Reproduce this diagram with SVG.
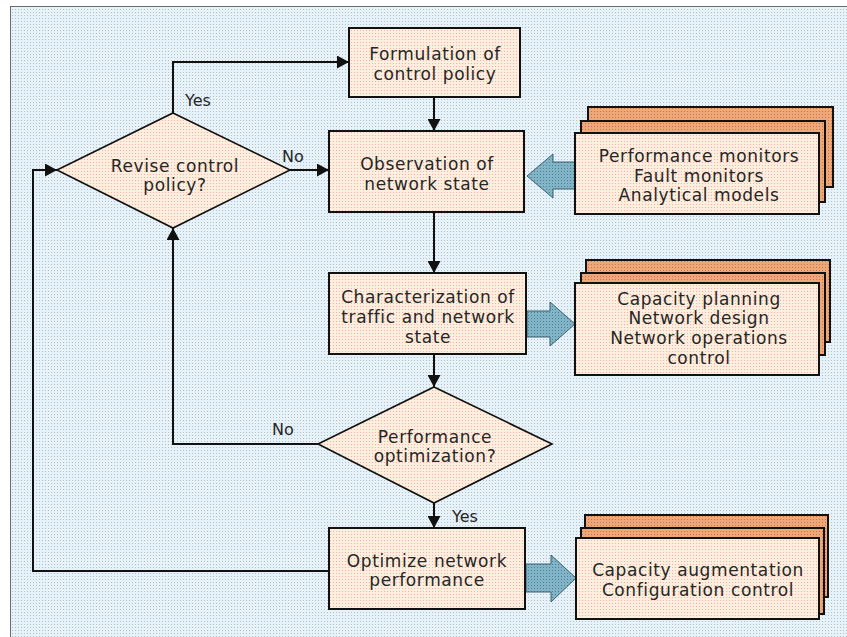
<svg xmlns="http://www.w3.org/2000/svg" width="847" height="637" viewBox="0 0 847 637">
  <defs>
    <!-- dotted fills -->
    <pattern id="bgDots" width="3" height="3" patternUnits="userSpaceOnUse">
      <rect width="3" height="3" fill="#e6f2fa"/>
      <rect width="1" height="1" fill="#bcbfc2"/>
    </pattern>
    <pattern id="peachDots" width="3" height="3" patternUnits="userSpaceOnUse">
      <rect width="3" height="3" fill="#fdeedd"/>
      <rect width="1" height="1" fill="#f0b2aa"/>
    </pattern>
    <pattern id="orangeDots" width="3" height="3" patternUnits="userSpaceOnUse">
      <rect width="3" height="3" fill="#eea878"/>
      <rect width="1" height="1" fill="#c67652"/>
    </pattern>
    <pattern id="blueDots" width="3" height="3" patternUnits="userSpaceOnUse">
      <rect width="3" height="3" fill="#80b4c6"/>
      <rect width="1" height="1" fill="#4f7f90"/>
    </pattern>
    <marker id="arrow" markerUnits="userSpaceOnUse" markerWidth="13" markerHeight="13" refX="12" refY="6.5" orient="auto">
      <path d="M0,0 L12,6.5 L0,13 z" fill="#111"/>
    </marker>
    <style>
      .box { fill: url(#peachDots); stroke: #111; stroke-width: 2; }
      .back { fill: url(#orangeDots); stroke: #111; stroke-width: 2; }
      .dec { fill: url(#peachDots); stroke: #111; stroke-width: 1.6; }
      .blk { fill: url(#blueDots); stroke: #3a6070; stroke-width: 1; }
      .wire { fill: none; stroke: #111; stroke-width: 2; }
      .lbl { font-family: "DejaVu Sans", "Liberation Sans", sans-serif; font-size: 17px; letter-spacing: 0.6px; fill: #262626; text-anchor: middle; }
      .tag { font-family: "DejaVu Sans", "Liberation Sans", sans-serif; font-size: 16px; fill: #262626; }
    </style>
  </defs>

  <!-- canvas -->
  <rect x="0" y="0" width="847" height="637" fill="#ffffff"/>
  <rect x="10.5" y="6.5" width="900" height="700" fill="url(#bgDots)" stroke="#6a6a6a" stroke-width="1"/>

  <!-- connectors -->
  <g id="connectors">
    <path class="wire" d="M173,113 V62 H349" marker-end="url(#arrow)"/>
    <path class="wire" d="M434,97 V131" marker-end="url(#arrow)"/>
    <path class="wire" d="M290,170 H329" marker-end="url(#arrow)"/>
    <path class="wire" d="M434,212 V273" marker-end="url(#arrow)"/>
    <path class="wire" d="M434,354 V387" marker-end="url(#arrow)"/>
    <path class="wire" d="M318,444 H173 V228" marker-end="url(#arrow)"/>
    <path class="wire" d="M434,503 V528" marker-end="url(#arrow)"/>
    <path class="wire" d="M329,571 H33 V170 H57" marker-end="url(#arrow)"/>
    <text class="tag" x="185" y="106">Yes</text>
    <text class="tag" x="282" y="162">No</text>
    <text class="tag" x="272" y="435">No</text>
    <text class="tag" x="452" y="522">Yes</text>
    <!-- block arrows -->
    <polygon class="blk" points="527,176 553,154 553,162 575,162 575,189 553,189 553,198"/>
    <polygon class="blk" points="527,311 550,311 550,302 575,324 550,346 550,337 527,337"/>
    <polygon class="blk" points="526,564 551,564 551,555 576,578 551,602 551,592 526,592"/>
  </g>

  <g id="formulation">
    <rect class="box" x="349" y="28" width="171" height="69"/>
    <text class="lbl" x="435" y="60">Formulation of</text>
    <text class="lbl" x="435" y="80">control policy</text>
  </g>

  <g id="observation">
    <rect class="box" x="329" y="131" width="195" height="81"/>
    <text class="lbl" x="427" y="170">Observation of</text>
    <text class="lbl" x="427" y="190">network state</text>
  </g>

  <g id="revise">
    <polygon class="dec" points="173,113 290,170 173,228 57,170"/>
    <text class="lbl" x="175" y="172">Revise control</text>
    <text class="lbl" x="175" y="191">policy?</text>
  </g>

  <g id="monitors">
    <rect class="back" x="588" y="107" width="245" height="80"/>
    <rect class="back" x="581" y="121" width="244" height="81"/>
    <rect class="box" x="575" y="133" width="244" height="81"/>
    <text class="lbl" x="699" y="162">Performance monitors</text>
    <text class="lbl" x="699" y="182">Fault monitors</text>
    <text class="lbl" x="699" y="201">Analytical models</text>
  </g>

  <g id="characterization">
    <rect class="box" x="329" y="273" width="197" height="81"/>
    <text class="lbl" x="428" y="303">Characterization of</text>
    <text class="lbl" x="428" y="323">traffic and network</text>
    <text class="lbl" x="428" y="343">state</text>
  </g>

  <g id="planning">
    <rect class="back" x="586" y="260" width="244" height="82"/>
    <rect class="back" x="581" y="273" width="244" height="82"/>
    <rect class="box" x="575" y="283" width="244" height="92"/>
    <text class="lbl" x="699" y="305">Capacity planning</text>
    <text class="lbl" x="699" y="324">Network design</text>
    <text class="lbl" x="699" y="344">Network operations</text>
    <text class="lbl" x="699" y="364">control</text>
  </g>

  <g id="performance">
    <polygon class="dec" points="434,387 552,444 434,503 318,444"/>
    <text class="lbl" x="435" y="443">Performance</text>
    <text class="lbl" x="435" y="462">optimization?</text>
  </g>

  <g id="optimize">
    <rect class="box" x="329" y="528" width="196" height="81"/>
    <text class="lbl" x="427" y="567">Optimize network</text>
    <text class="lbl" x="427" y="586">performance</text>
  </g>

  <g id="augmentation">
    <rect class="back" x="585" y="515" width="243" height="82"/>
    <rect class="back" x="581" y="528" width="243" height="86"/>
    <rect class="box" x="576" y="538" width="243" height="81"/>
    <text class="lbl" x="698" y="576">Capacity augmentation</text>
    <text class="lbl" x="698" y="596">Configuration control</text>
  </g>
</svg>
